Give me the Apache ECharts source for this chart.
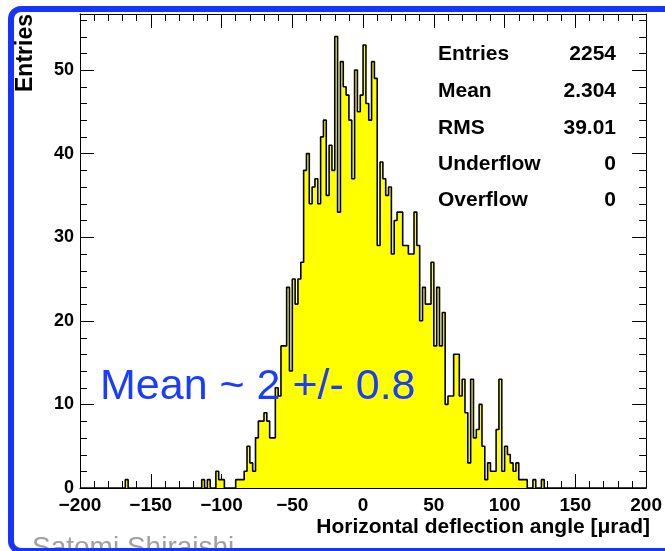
<!DOCTYPE html>
<html>
<head>
<meta charset="utf-8">
<script src="https://cdn.jsdelivr.net/npm/echarts@6/dist/echarts.min.js"></script>
<style>
  html, body { margin: 0; padding: 0; background: #ffffff; }
  #chart { width: 665px; height: 551px; }
</style>
</head>
<body>
<div id="chart"></div>
<script>
// Histogram binning: 200 bins of width 2 urad from -200 to 200
const binStart = -200;
const binWidth = 2;
const counts = [
  0, 0, 0, 0, 0, 0, 0, 0, 0, 0, 0, 0, 0, 0, 0, 0, 1, 0, 0, 0,
  0, 0, 0, 0, 0, 0, 0, 0, 0, 0, 0, 0, 0, 0, 0, 0, 0, 0, 0, 0,
  0, 0, 0, 1, 0, 1, 0, 0, 2, 1, 1, 0, 0, 0, 0, 1, 1, 1, 2, 5,
  3, 2, 6, 8, 8, 9, 8, 6, 6, 12, 11, 17, 17, 24, 14, 25, 22, 25, 27, 38,
  40, 34, 36, 37, 34, 42, 44, 35, 41, 38, 54, 33, 51, 48, 47, 44, 37, 50, 45, 47,
  53, 46, 44, 51, 49, 29, 39, 37, 35, 36, 28, 32, 33, 33, 29, 29, 28, 28, 33, 29,
  20, 24, 22, 22, 27, 17, 24, 17, 21, 10, 11, 11, 16, 16, 11, 13, 9, 3, 13, 6,
  7, 10, 5, 1, 3, 2, 2, 7, 13, 2, 5, 4, 3, 2, 3, 1, 1, 1, 0, 0,
  1, 0, 0, 1, 0, 0, 0, 0, 0, 0, 0, 0, 0, 0, 0, 0, 0, 0, 0, 0,
  0, 0, 0, 0, 0, 0, 0, 0, 0, 0, 0, 0, 0, 0, 0, 0, 0, 0, 0, 0
];

// Axis ranges and tick spacing
const xRange = [-200, 200];
const xMajor = 50;
const yMax = 56.7;
const yMajor = 10;
const yMinor = 2;

// Statistics box
const statLabels = ['Entries', 'Mean', 'RMS', 'Underflow', 'Overflow'];
const statValues = ['2254', '2.304', '39.01', '0', '0'];

const xTitle = 'Horizontal deflection angle [\u03bcrad]';
const yTitle = 'Entries';
const note = 'Mean ~ 2 +/- 0.8';
const author = 'Satomi Shiraishi';

// Step outline: one point per bin low edge, plus the closing upper edge
const stepData = counts.map((c, i) => [binStart + i * binWidth, c]);
stepData.push([binStart + counts.length * binWidth, counts[counts.length - 1]]);

// Short y ticks between the labelled ones, as [x, y] pairs on the left frame edge
const yMinorTicks = [];
for (let v = yMinor; v < yMax; v += yMinor) {
  if (v % yMajor !== 0) yMinorTicks.push([xRange[0], v]);
}

const FONT = "'Liberation Sans', Arial, Helvetica, sans-serif";
const minus = v => (v < 0 ? '\u2212' + Math.abs(v) : String(v));

const chart = echarts.init(document.getElementById('chart'), null, { renderer: 'canvas' });

const tickLine = { color: '#000', width: 1 };
const baseX = {
  type: 'value', min: xRange[0], max: xRange[1], interval: xMajor,
  axisLine: { show: true, onZero: false, lineStyle: tickLine },
  axisTick: { show: true, inside: true, length: 14, lineStyle: tickLine },
  minorTick: { show: true, splitNumber: 5, length: 7, lineStyle: tickLine },
  splitLine: { show: false }
};
const baseY = {
  type: 'value', min: 0, max: yMax, interval: yMajor,
  axisLine: { show: true, onZero: false, lineStyle: tickLine },
  axisTick: { show: true, inside: true, length: 14, lineStyle: tickLine },
  splitLine: { show: false }
};

const graphics = [
  // slide border
  { type: 'rect', silent: true, z: 100,
    shape: { x: 11, y: 9, width: 720, height: 542, r: 10 },
    style: { fill: 'none', stroke: '#1535ff', lineWidth: 6 } },
  { type: 'text', x: 26, y: 14, rotation: Math.PI / 2, z: 50,
    style: { text: yTitle, font: 'bold 23px ' + FONT, fill: '#000', align: 'right', verticalAlign: 'middle' } },
  { type: 'text', x: 650, y: 527, z: 50,
    style: { text: xTitle, font: 'bold 21px ' + FONT, fill: '#000', align: 'right', verticalAlign: 'middle' } },
  { type: 'text', x: 100, y: 387, z: 50,
    style: { text: note, font: '43px ' + FONT, fill: '#1a3cff', align: 'left', verticalAlign: 'middle' } },
  { type: 'text', x: 32, y: 534, z: 50,
    style: { text: author, font: '28px ' + FONT, fill: '#a0a0a0', align: 'left', verticalAlign: 'top' } }
];
const rowY = [54, 91, 128, 164, 200];
statLabels.forEach((lab, k) => {
  graphics.push({ type: 'text', x: 438, y: rowY[k], z: 50,
    style: { text: lab, font: 'bold 21px ' + FONT, fill: '#000', align: 'left', verticalAlign: 'middle' } });
  graphics.push({ type: 'text', x: 616, y: rowY[k], z: 50,
    style: { text: statValues[k], font: 'bold 21px ' + FONT, fill: '#000', align: 'right', verticalAlign: 'middle' } });
});

chart.setOption({
  animation: false,
  backgroundColor: '#ffffff',
  grid: { left: 80, top: 14, right: 16, bottom: 63, containLabel: false },
  xAxis: [
    Object.assign({}, baseX, {
      position: 'bottom',
      axisLabel: { show: true, margin: 8, color: '#000', fontSize: 19, fontWeight: 'bold', fontFamily: FONT, formatter: minus }
    }),
    Object.assign({}, baseX, { position: 'top', axisLabel: { show: false } })
  ],
  yAxis: [
    Object.assign({}, baseY, {
      position: 'left',
      axisLabel: { show: true, margin: 6, color: '#000', fontSize: 18, fontWeight: 'bold', fontFamily: FONT, showMaxLabel: false }
    }),
    Object.assign({}, baseY, { position: 'right', axisLabel: { show: false } })
  ],
  series: [{
    type: 'line',
    xAxisIndex: 0, yAxisIndex: 0,
    data: stepData,
    step: 'end',
    symbol: 'none',
    lineStyle: { color: '#000', width: 1.6 },
    areaStyle: { color: '#ffff00', opacity: 1, origin: 0 },
    z: 3
  }, {
    // short ticks on both vertical frame edges, placed with the y scale
    type: 'custom',
    xAxisIndex: 0, yAxisIndex: 0,
    data: yMinorTicks,
    encode: { x: 0, y: 1 },
    clip: false,
    silent: true,
    z: 4,
    renderItem: function (params, api) {
      const v = api.value(1);
      const l = api.coord([xRange[0], v]);
      const r = api.coord([xRange[1], v]);
      const y = Math.round(l[1]) + 0.5;
      const st = { stroke: '#000', lineWidth: 1, fill: null };
      return { type: 'group', children: [
        { type: 'line', shape: { x1: l[0], y1: y, x2: l[0] + 7, y2: y }, style: st },
        { type: 'line', shape: { x1: r[0], y1: y, x2: r[0] - 7, y2: y }, style: st }
      ] };
    }
  }],
  graphic: graphics
});
</script>
</body>
</html>
